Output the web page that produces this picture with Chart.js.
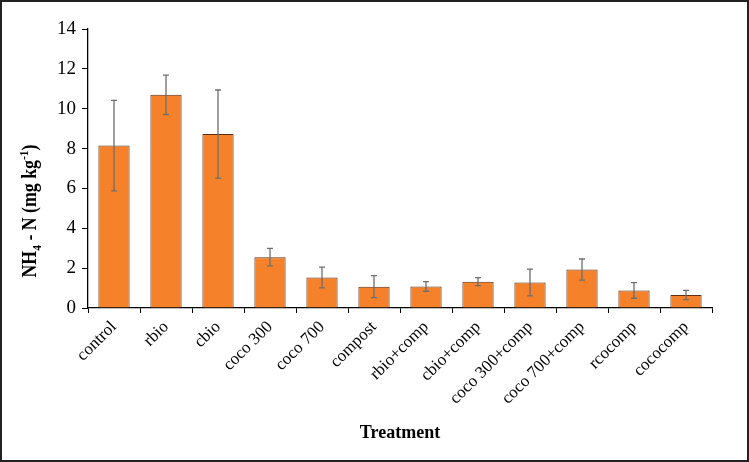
<!DOCTYPE html>
<html>
<head>
<meta charset="utf-8">
<script src="https://cdn.jsdelivr.net/npm/chart.js@4.4.1/dist/chart.umd.min.js"></script>
<style>
  html, body { margin: 0; padding: 0; background: #fff; }
  #wrap { width: 749px; height: 462px; position: relative; }
</style>
</head>
<body>
<div id="wrap"><canvas id="chart" width="749" height="462"></canvas></div>
<script>
// Datos
const treatments = ['control', 'rbio', 'cbio', 'coco 300', 'coco 700', 'compost',
    'rbio+comp', 'cbio+comp', 'coco 300+comp', 'coco 700+comp', 'rcocomp', 'cococomp'];
const nh4Values = [8.15, 10.7, 8.73, 2.55, 1.53, 1.07, 1.08, 1.32, 1.28, 1.93, 0.88, 0.65];
const nh4Errors = [2.27, 0.99, 2.21, 0.44, 0.52, 0.55, 0.24, 0.2, 0.67, 0.53, 0.39, 0.23];
const yTicks = [0, 2, 4, 6, 8, 10, 12, 14];

const SERIF = '"Liberation Serif", "Times New Roman", serif';

// Barras de error
const errorBars = {
    id: 'errorBars',
    afterDatasetsDraw(chart) {
        const ctx = chart.ctx;
        const y = chart.scales.y;
        const meta = chart.getDatasetMeta(0);
        ctx.save();
        ctx.strokeStyle = '#6e6e6e';
        ctx.lineWidth = 1.3;
        meta.data.forEach((bar, i) => {
            const v = nh4Values[i], e = nh4Errors[i];
            const top = y.getPixelForValue(v + e);
            const bot = y.getPixelForValue(v - e);
            ctx.beginPath();
            ctx.moveTo(bar.x, top); ctx.lineTo(bar.x, bot);
            ctx.moveTo(bar.x - 3, top); ctx.lineTo(bar.x + 3, top);
            ctx.moveTo(bar.x - 3, bot); ctx.lineTo(bar.x + 3, bot);
            ctx.stroke();
        });
        ctx.restore();
    }
};

// Titulo eje Y con subindice y superindice, y marco
const extras = {
    id: 'extras',
    afterDraw(chart) {
        const ctx = chart.ctx;
        ctx.save();
        ctx.strokeStyle = '#222';
        ctx.lineWidth = 2;
        ctx.strokeRect(1, 1, chart.width - 2, chart.height - 2);

        const parts = [
            { t: 'NH', s: 20, dy: 0 },
            { t: '4', s: 13, dy: 5 },
            { t: ' - N (mg kg', s: 20, dy: 0 },
            { t: '-1', s: 13, dy: -8 },
            { t: ')', s: 20, dy: 0 }
        ];
        let total = 0;
        parts.forEach(p => { ctx.font = `bold ${p.s}px ${SERIF}`; p.w = ctx.measureText(p.t).width; total += p.w; });
        ctx.translate(36, 211);
        ctx.rotate(-Math.PI / 2);
        ctx.scale(133 / total, 1);
        ctx.fillStyle = '#000';
        ctx.textBaseline = 'alphabetic';
        let x = -total / 2;
        parts.forEach(p => {
            ctx.font = `bold ${p.s}px ${SERIF}`;
            ctx.fillText(p.t, x, p.dy);
            x += p.w;
        });
        ctx.restore();
    }
};

const ctx = document.getElementById('chart').getContext('2d');
const chart = new Chart(ctx, {
    type: 'bar',
    data: {
        labels: treatments,
        datasets: [{
            data: nh4Values,
            backgroundColor: '#f5822a',
            borderColor: '#5a2c10',
            borderWidth: 1,
            categoryPercentage: 1,
            barPercentage: 0.6
        }]
    },
    options: {
        responsive: false,
        animation: false,
        layout: { padding: { left: 0, right: 37, top: 29, bottom: 14 } },
        plugins: {
            legend: { display: false },
            tooltip: { enabled: false }
        },
        scales: {
            y: {
                min: 0, max: 14,
                afterBuildTicks: (s) => { s.ticks = yTicks.map(v => ({ value: v })); },
                afterFit: (s) => { s.width = 88; },
                border: { color: '#000', width: 1.3 },
                grid: { drawOnChartArea: false, drawTicks: true, tickLength: 6, color: '#000' },
                ticks: { color: '#000', padding: 6, font: { family: SERIF, size: 19 } }
            },
            x: {
                afterFit: (s) => { s.height = 140; },
                border: { color: '#000', width: 1.3 },
                grid: { offset: true, drawOnChartArea: false, drawTicks: true, tickLength: 5, color: '#000' },
                ticks: { color: '#000', maxRotation: 45, minRotation: 45, padding: 4, font: { family: SERIF, size: 17 } },
                title: { display: true, text: 'Treatment', color: '#000', padding: { top: 14 }, font: { family: SERIF, size: 18, weight: 'bold' } }
            }
        }
    },
    plugins: [errorBars, extras]
});
</script>
</body>
</html>
